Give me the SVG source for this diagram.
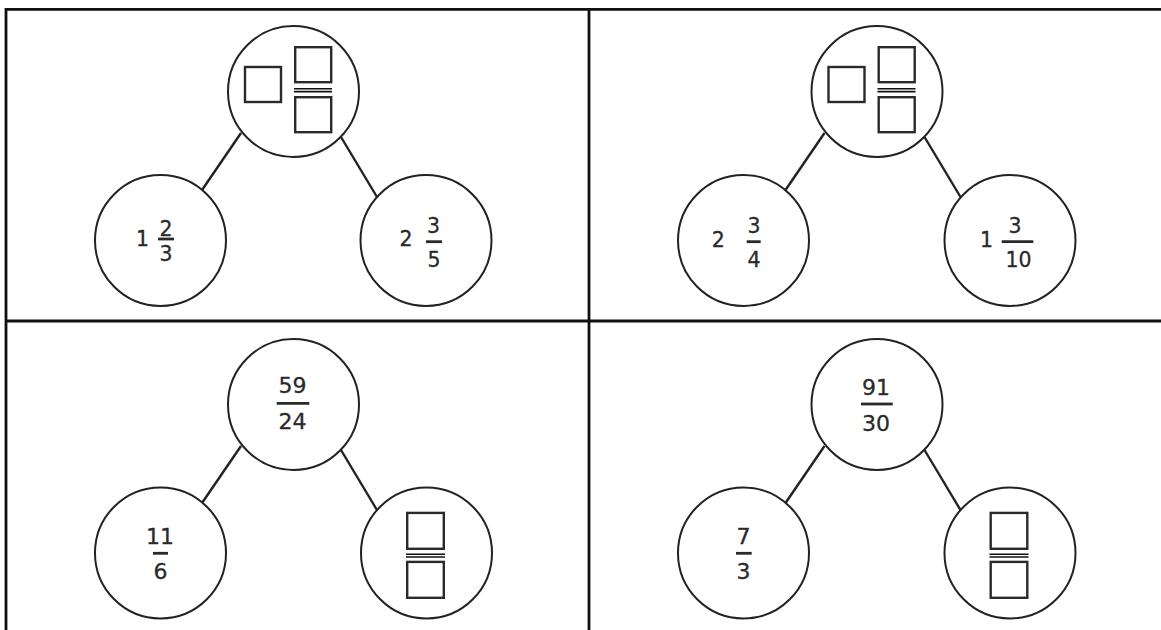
<svg xmlns="http://www.w3.org/2000/svg" width="1161" height="630" viewBox="0 0 1161 630">
<style>
.grid{stroke:#111;stroke-width:2.8;fill:none}
.c{fill:#fff;stroke:#222;stroke-width:2}
.e{stroke:#222;stroke-width:2.4}
.b{fill:none;stroke:#2a2a2a;stroke-width:2.4}
.dl{stroke:#111;stroke-width:1.6}
.bar{stroke:#2a2a2a;stroke-width:2.8}
.t{font-family:"DejaVu Sans","Noto Sans",sans-serif;font-size:20.5px;fill:#2a2a2a;text-anchor:middle;stroke:#2a2a2a;stroke-width:0.3}
.t2{font-size:22px}
</style>
<rect width="1161" height="630" fill="#fff"/>
<g id="grid">
<line class="grid" x1="6" y1="9.3" x2="1161" y2="9.3"/>
<line class="grid" x1="6" y1="8" x2="6" y2="630"/>
<line class="grid" x1="6" y1="321" x2="1161" y2="321"/>
<line class="grid" x1="589" y1="8" x2="589" y2="630"/>
</g>
<g id="connectors">
<line class="e" x1="241" y1="133" x2="202" y2="190"/>
<line class="e" x1="341" y1="137" x2="377" y2="197"/>
<line class="e" x1="824.5" y1="133" x2="785.5" y2="190"/>
<line class="e" x1="924.5" y1="137" x2="960.5" y2="197"/>
<line class="e" x1="241" y1="446" x2="202" y2="503"/>
<line class="e" x1="341" y1="450" x2="377" y2="510"/>
<line class="e" x1="824.5" y1="446" x2="785.5" y2="503"/>
<line class="e" x1="924.5" y1="450" x2="960.5" y2="510"/>
</g>
<g id="n1-top">
<circle class="c" cx="293.5" cy="91.5" r="65.5"/>
<rect class="b" x="245" y="67" width="36" height="35"/>
<rect class="b" x="295.2" y="47.2" width="36" height="35"/>
<line class="dl" x1="294" y1="88.8" x2="332" y2="88.8"/>
<line class="dl" x1="294" y1="91.6" x2="332" y2="91.6"/>
<rect class="b" x="295.2" y="97.2" width="36" height="35"/>
</g>
<g id="n1-left">
<circle class="c" cx="160.5" cy="240.5" r="65.5"/>
<text class="t" x="142.5" y="246">1</text>
<text class="t" x="166" y="236">2</text>
<line class="bar" x1="158" y1="239" x2="174" y2="239"/>
<text class="t" x="166" y="260.5">3</text>
</g>
<g id="n1-right">
<circle class="c" cx="426" cy="240.5" r="65.5"/>
<text class="t" x="406" y="246">2</text>
<text class="t" x="433.5" y="233">3</text>
<line class="bar" x1="426" y1="241.7" x2="442" y2="241.7"/>
<text class="t" x="434" y="266.5">5</text>
</g>
<g id="n2-top">
<circle class="c" cx="877" cy="91.5" r="65.5"/>
<rect class="b" x="828.5" y="67" width="36" height="35"/>
<rect class="b" x="878.7" y="47.2" width="36" height="35"/>
<line class="dl" x1="877.5" y1="88.8" x2="915.5" y2="88.8"/>
<line class="dl" x1="877.5" y1="91.6" x2="915.5" y2="91.6"/>
<rect class="b" x="878.7" y="97.2" width="36" height="35"/>
</g>
<g id="n2-left">
<circle class="c" cx="743.5" cy="240.5" r="65.5"/>
<text class="t" x="718.3" y="246.5">2</text>
<text class="t" x="754" y="232.5">3</text>
<line class="bar" x1="746.7" y1="241.7" x2="760.7" y2="241.7"/>
<text class="t" x="754" y="266.5">4</text>
</g>
<g id="n2-right">
<circle class="c" cx="1010" cy="240.5" r="65.5"/>
<text class="t" x="986.5" y="246.5">1</text>
<text class="t" x="1015" y="232.5">3</text>
<line class="bar" x1="1001.7" y1="241.7" x2="1033.3" y2="241.7"/>
<text class="t" x="1018.5" y="266.5">10</text>
</g>
<g id="n3-top">
<circle class="c" cx="293.5" cy="404.5" r="65.5"/>
<text class="t t2" x="292.5" y="393">59</text>
<line class="bar" x1="276.7" y1="403.3" x2="309.3" y2="403.3"/>
<text class="t t2" x="292.5" y="429">24</text>
</g>
<g id="n3-left">
<circle class="c" cx="160.5" cy="553" r="65.5"/>
<text class="t t2" x="160" y="544">11</text>
<line class="bar" x1="153" y1="553.3" x2="168" y2="553.3"/>
<text class="t t2" x="160.5" y="578.5">6</text>
</g>
<g id="n3-right">
<circle class="c" cx="426.5" cy="553" r="65.5"/>
<rect class="b" x="407.2" y="512.9" width="36.6" height="35.9"/>
<line class="dl" x1="406" y1="554.3" x2="445" y2="554.3"/>
<line class="dl" x1="406" y1="557" x2="445" y2="557"/>
<rect class="b" x="407.2" y="561.9" width="36.6" height="35.9"/>
</g>
<g id="n4-top">
<circle class="c" cx="877" cy="404.5" r="65.5"/>
<text class="t t2" x="876" y="395">91</text>
<line class="bar" x1="861" y1="404" x2="892.7" y2="404"/>
<text class="t t2" x="876" y="430.5">30</text>
</g>
<g id="n4-left">
<circle class="c" cx="743.5" cy="553" r="65.5"/>
<text class="t t2" x="743.5" y="544">7</text>
<line class="bar" x1="736" y1="553.3" x2="751.7" y2="553.3"/>
<text class="t t2" x="743.5" y="578.5">3</text>
</g>
<g id="n4-right">
<circle class="c" cx="1010" cy="553" r="65.5"/>
<rect class="b" x="990.7" y="512.9" width="36.6" height="35.9"/>
<line class="dl" x1="989.5" y1="554.3" x2="1028.5" y2="554.3"/>
<line class="dl" x1="989.5" y1="557" x2="1028.5" y2="557"/>
<rect class="b" x="990.7" y="561.9" width="36.6" height="35.9"/>
</g>
</svg>
